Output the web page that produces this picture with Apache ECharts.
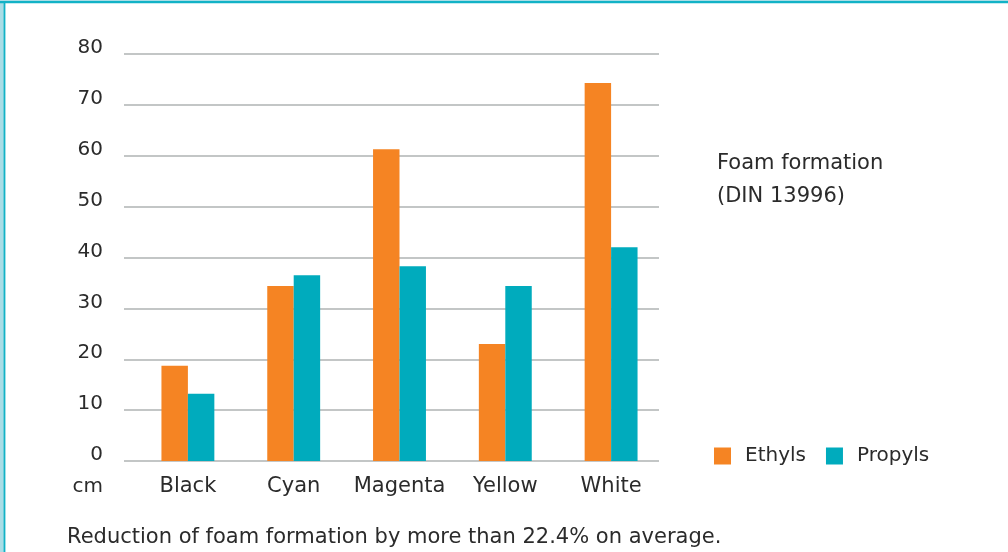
<!DOCTYPE html>
<html>
<head>
<meta charset="utf-8">
<script src="https://cdn.jsdelivr.net/npm/echarts@6/dist/echarts.min.js"></script>
<style>
  html, body { margin: 0; padding: 0; background: #ffffff; }
  #chart { width: 1008px; height: 552px; }
</style>
</head>
<body>
<div id="chart"></div>
<script>
// Foam formation per ink colour (cm), DIN 13996
const categories = ['Black', 'Cyan', 'Magenta', 'Yellow', 'White'];
const ethyls = [18.7, 34.4, 61.3, 23.0, 74.3];
const propyls = [13.2, 36.5, 38.3, 34.4, 42.0];
const yTicks = { min: 0, max: 80, interval: 10 };

const FONT = 'DejaVu Sans';
const TEXT = '#2b2b2b';
const ORANGE = '#f58423';
const TEAL = '#00abbd';

const chart = echarts.init(document.getElementById('chart'), null, { renderer: 'canvas' });

chart.setOption({
  animation: false,
  backgroundColor: '#ffffff',
  textStyle: { fontFamily: FONT },
  title: {
    text: 'Foam formation\n(DIN 13996)',
    left: 712,
    top: 142,
    textStyle: { fontFamily: FONT, fontSize: 21, fontWeight: 'normal', color: TEXT, lineHeight: 33 }
  },
  legend: {
    left: 714,
    top: 446,
    padding: 0,
    icon: 'rect',
    itemWidth: 17,
    itemHeight: 17,
    itemGap: 20,
    textStyle: { fontFamily: FONT, fontSize: 20, color: TEXT, padding: [0, 0, 0, 9] },
    data: ['Ethyls', 'Propyls']
  },
  grid: [
    // gridline frame
    { left: 124, right: 349, top: 54, bottom: 91 },
    // bar frame
    { left: 135, right: 344, top: 54, bottom: 91 }
  ],
  xAxis: [
    { gridIndex: 0, type: 'category', data: categories, show: false },
    {
      gridIndex: 1, type: 'category', data: categories,
      axisLine: { show: false }, axisTick: { show: false },
      axisLabel: { fontFamily: FONT, fontSize: 21, color: TEXT, margin: 15, interval: 0 }
    }
  ],
  yAxis: [
    {
      gridIndex: 0, type: 'value', min: yTicks.min, max: yTicks.max, interval: yTicks.interval,
      axisLine: { show: false }, axisTick: { show: false },
      axisLabel: { fontFamily: FONT, fontSize: 20, color: TEXT, margin: 21, verticalAlign: 'bottom', lineHeight: 12 },
      splitLine: { lineStyle: { color: '#c3c6c6', width: 2 } }
    },
    {
      gridIndex: 1, type: 'value', min: yTicks.min, max: yTicks.max, interval: yTicks.interval,
      show: false, splitLine: { show: false }
    }
  ],
  series: [
    {
      name: 'Ethyls', type: 'bar', xAxisIndex: 1, yAxisIndex: 1,
      data: ethyls, barWidth: '25%', barGap: '0%',
      itemStyle: { color: ORANGE }
    },
    {
      name: 'Propyls', type: 'bar', xAxisIndex: 1, yAxisIndex: 1,
      data: propyls, barWidth: '25%', barGap: '0%',
      itemStyle: { color: TEAL }
    }
  ],
  graphic: [
    // panel frame along top and left edges
    { type: 'rect', shape: { x: 0, y: 0, width: 4, height: 552 }, style: { fill: '#a9dde6' }, silent: true },
    { type: 'rect', shape: { x: 0, y: 0, width: 1008, height: 1 }, style: { fill: '#a9dde6' }, silent: true },
    { type: 'rect', shape: { x: 3.6, y: 1, width: 1.8, height: 551 }, style: { fill: '#12b2c6' }, silent: true },
    { type: 'rect', shape: { x: 0, y: 1, width: 1008, height: 2.2 }, style: { fill: '#12b2c6' }, silent: true },
    {
      type: 'text', right: 905, top: 477,
      style: { text: 'cm', fontFamily: FONT, fontSize: 20, fill: TEXT, textAlign: 'right' }
    },
    {
      type: 'text', left: 67, top: 527,
      style: { text: 'Reduction of foam formation by more than 22.4% on average.', fontFamily: FONT, fontSize: 21, fill: TEXT }
    }
  ]
});
</script>
</body>
</html>
